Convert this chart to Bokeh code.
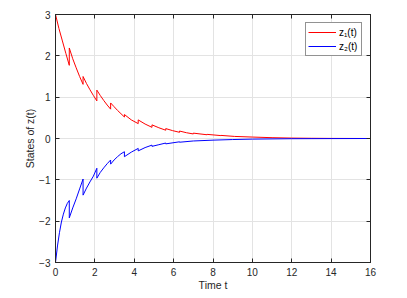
from bokeh.plotting import figure
from bokeh.models import Range1d, LinearAxis, FixedTicker, Legend, LegendItem
from bokeh.embed import file_html
from bokeh.resources import INLINE

# z1(t) (jumps appear as repeated t)
t1 = [0, 0.175, 0.35, 0.525, 0.7, 0.7, 0.875, 1.05, 1.225, 1.4, 1.4, 1.575, 1.75, 1.925,
      2.1, 2.1, 2.275, 2.45, 2.625, 2.8, 2.8, 2.975, 3.15, 3.325, 3.5, 3.5, 3.85, 4.2, 4.2,
      4.55, 4.9, 4.9, 5.25, 5.6, 5.6, 5.95, 6.3, 6.3, 6.65, 7.0, 7.0, 7.7, 7.7, 8.4, 8.4,
      9.1, 10, 11, 12, 13, 14, 15, 16]
z1 = [3.0, 2.66, 2.36, 2.06, 1.77, 2.19, 1.93, 1.71, 1.50, 1.31, 1.50, 1.33, 1.18, 1.04,
      0.91, 1.17, 1.04, 0.92, 0.81, 0.71, 0.86, 0.77, 0.68, 0.60, 0.52, 0.58, 0.45, 0.36, 0.45,
      0.35, 0.27, 0.33, 0.26, 0.20, 0.24, 0.19, 0.15, 0.18, 0.14, 0.11, 0.13, 0.09, 0.10, 0.07, 0.075,
      0.05, 0.035, 0.02, 0.01, 0.005, 0.002, 0.001, 0.0]

# z2(t)
t2 = [0, 0.1, 0.2, 0.3, 0.4, 0.5, 0.6, 0.7, 0.7, 0.875, 1.05, 1.225, 1.4, 1.4, 1.575, 1.75,
      1.925, 2.1, 2.1, 2.275, 2.45, 2.625, 2.8, 2.8, 2.975, 3.15, 3.325, 3.5, 3.5, 3.85, 4.2,
      4.2, 4.55, 4.9, 4.9, 5.25, 5.6, 5.6, 6.3, 6.3, 7.0, 8, 9, 10, 12, 14, 16]
z2 = [-3.0, -2.60, -2.28, -2.02, -1.83, -1.68, -1.57, -1.50, -1.92, -1.68, -1.46, -1.22, -0.98,
      -1.37, -1.20, -1.05, -0.91, -0.72, -0.96, -0.82, -0.71, -0.61, -0.52, -0.62, -0.52, -0.44,
      -0.37, -0.32, -0.44, -0.33, -0.24, -0.30, -0.22, -0.16, -0.19, -0.15, -0.11, -0.13, -0.08,
      -0.09, -0.06, -0.04, -0.025, -0.015, -0.005, -0.002, 0.0]

x_ticks = [0, 2, 4, 6, 8, 10, 12, 14, 16]
y_ticks = [-3, -2, -1, 0, 1, 2, 3]

FONT = "Liberation Sans"
AX = "#262626"

p = figure(width=399, height=296, output_backend="svg", toolbar_location=None,
           x_range=Range1d(0, 16), y_range=Range1d(-3, 3),
           min_border_left=55, min_border_right=29, min_border_top=14, min_border_bottom=34)

p.outline_line_color = AX
p.outline_line_width = 1
p.background_fill_color = "white"

for ax in (p.xaxis[0], p.yaxis[0]):
    ax.axis_line_color = AX
    ax.major_tick_line_color = AX
    ax.major_tick_in = 4
    ax.major_tick_out = 0
    ax.minor_tick_line_color = None
    ax.major_label_text_font = FONT
    ax.major_label_text_font_size = "10px"
    ax.major_label_text_color = AX
    ax.axis_label_text_font = FONT
    ax.axis_label_text_font_size = "10.5px"
    ax.axis_label_text_font_style = "normal"
    ax.axis_label_text_color = AX

p.xaxis.ticker = FixedTicker(ticks=x_ticks)
p.yaxis.ticker = FixedTicker(ticks=y_ticks)
p.xaxis.axis_label = "Time t"
p.yaxis.axis_label = "States of z(t)"
p.xaxis.major_label_standoff = 5
p.yaxis.major_label_standoff = 5
p.xaxis.axis_label_standoff = 0
p.yaxis.axis_label_standoff = 0

# top and right tick marks (box style), no labels
top = LinearAxis(ticker=FixedTicker(ticks=x_ticks),
                 major_label_overrides={t: "" for t in x_ticks},
                 major_tick_in=4, major_tick_out=0, minor_tick_line_color=None,
                 axis_line_color=AX, major_tick_line_color=AX, major_label_standoff=0)
right = LinearAxis(ticker=FixedTicker(ticks=y_ticks),
                   major_label_overrides={t: "" for t in y_ticks},
                   major_tick_in=4, major_tick_out=0, minor_tick_line_color=None,
                   axis_line_color=AX, major_tick_line_color=AX, major_label_standoff=0)
p.add_layout(top, "above")
p.add_layout(right, "right")

p.xgrid.ticker = FixedTicker(ticks=x_ticks)
p.ygrid.ticker = FixedTicker(ticks=y_ticks)
p.grid.grid_line_color = "#e3e3e3"
p.grid.grid_line_width = 1

r1 = p.line(t1, z1, line_color="#ff0000", line_width=1)
r2 = p.line(t2, z2, line_color="#0000ff", line_width=1)

legend = Legend(items=[LegendItem(label="z\u2081(t)", renderers=[r1]),
                       LegendItem(label="z\u2082(t)", renderers=[r2])],
                location="top_right")
legend.label_text_font = FONT
legend.label_text_font_size = "10px"
legend.label_text_color = "black"
legend.border_line_color = AX
legend.border_line_width = 1
legend.background_fill_color = "white"
legend.background_fill_alpha = 1
legend.glyph_width = 28
legend.glyph_height = 14
legend.label_height = 14
legend.spacing = 0
legend.padding = 2
legend.margin = 8
legend.label_standoff = 3
p.add_layout(legend)

open("out.html", "w").write(file_html(p, INLINE))
